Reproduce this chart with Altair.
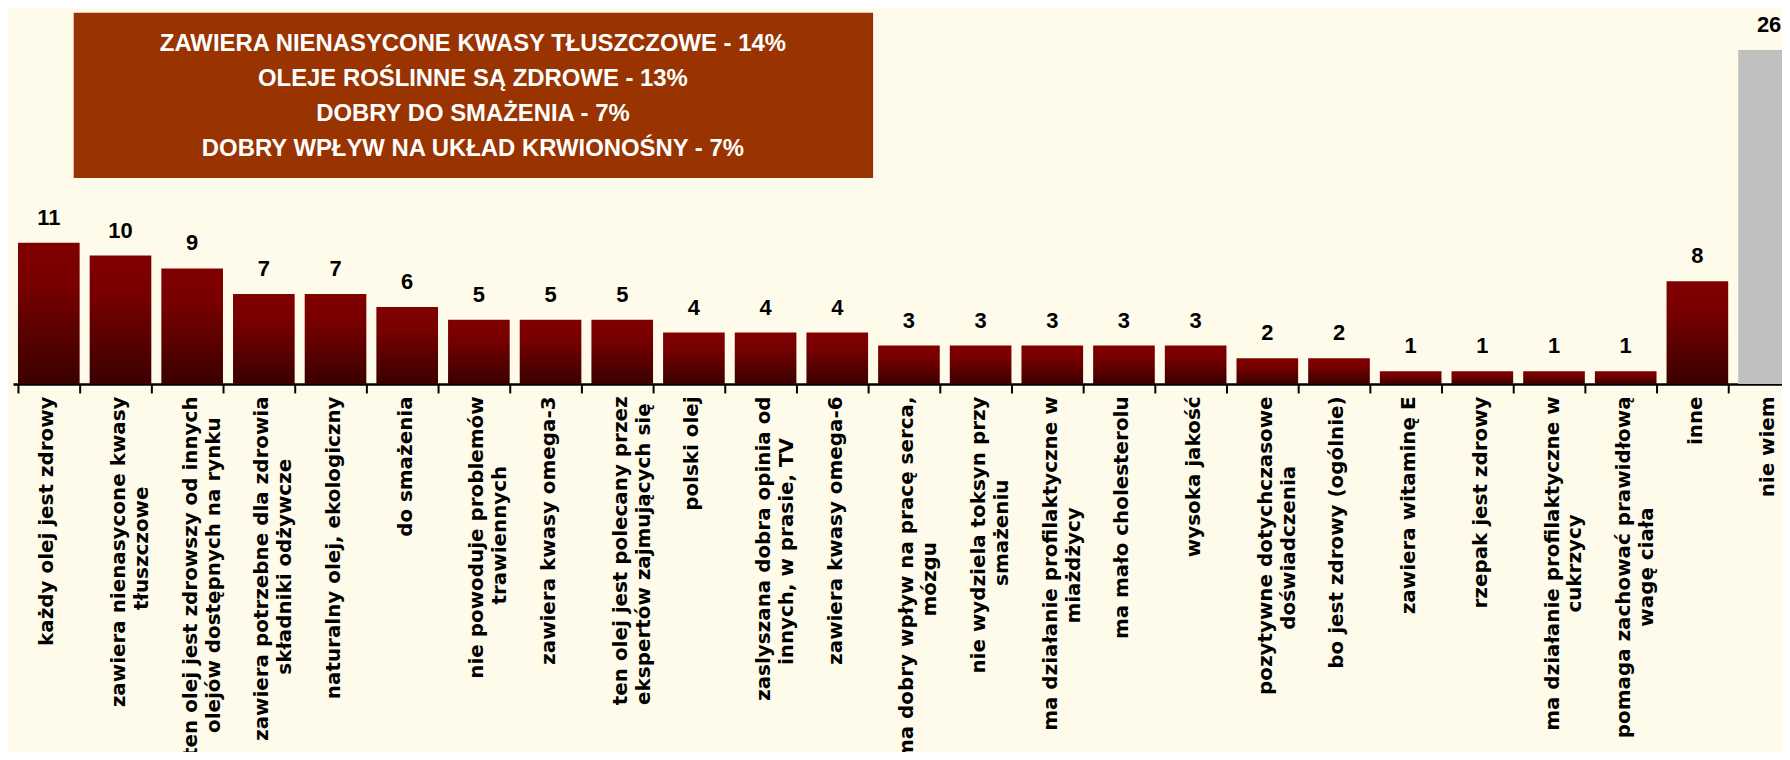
import altair as alt
import pandas as pd

# ---- data ----
categories = [
    "każdy olej jest zdrowy",
    "zawiera nienasycone kwasy|tłuszczowe",
    "ten olej jest zdrowszy od innych|olejów dostępnych na rynku",
    "zawiera potrzebne dla zdrowia|składniki odżywcze",
    "naturalny olej, ekologiczny",
    "do smażenia",
    "nie powoduje problemów|trawiennych",
    "zawiera kwasy omega-3",
    "ten olej jest polecany przez|ekspertów zajmujących się",
    "polski olej",
    "zaslyszana dobra opinia od|innych, w prasie, TV",
    "zawiera kwasy omega-6",
    "ma dobry wpływ na pracę serca,|mózgu",
    "nie wydziela toksyn przy|smażeniu",
    "ma działanie profilaktyczne w|miażdżycy",
    "ma mało cholesterolu",
    "wysoka jakość",
    "pozytywne dotychczasowe|doświadczenia",
    "bo jest zdrowy (ogólnie)",
    "zawiera witaminę E",
    "rzepak jest zdrowy",
    "ma działanie profilaktyczne w|cukrzycy",
    "pomaga zachować prawidłową|wagę ciała",
    "inne",
    "nie wiem",
]
values = [11, 10, 9, 7, 7, 6, 5, 5, 5, 4, 4, 4, 3, 3, 3, 3, 3, 2, 2, 1, 1, 1, 1, 8, 26]
highlight = "nie wiem"

box_lines = [
    "ZAWIERA NIENASYCONE KWASY TŁUSZCZOWE - 14%",
    "OLEJE ROŚLINNE SĄ ZDROWE - 13%",
    "DOBRY DO SMAŻENIA - 7%",
    "DOBRY WPŁYW NA UKŁAD KRWIONOŚNY - 7%",
]

# ---- approximate glyph widths (DejaVu Sans Bold, per 1000 em) used to centre
#      the lines of a two-line axis label against each other ----
GW = {
    " ": 348, "a": 675, "b": 716, "c": 593, "d": 716, "e": 678, "f": 435,
    "g": 716, "h": 712, "i": 343, "j": 343, "k": 665, "l": 343, "m": 1042,
    "n": 712, "o": 687, "p": 716, "r": 493, "s": 595, "t": 478, "u": 712,
    "v": 652, "w": 924, "x": 645, "y": 652, "z": 582, ",": 381, "-": 415,
    "(": 457, ")": 457, "ł": 400, "ą": 675, "ę": 678, "ó": 687, "ż": 582,
    "ź": 582, "ć": 593, "ś": 595, "ń": 712, "E": 683, "T": 682, "V": 774,
}
NBSP = "\u00a0"
ZWSP = "\u200b"  # keeps the no-break spaces from being trimmed


def text_w(s):
    return sum(GW.get(ch, 696) for ch in s)


def centre_lines(label):
    lines = label.split("|")
    ws = [text_w(l) for l in lines]
    wmax = max(ws)
    out = []
    for l, w in zip(lines, ws):
        n = int(round((wmax - w) / 2 / GW[" "]))
        out.append(l + (NBSP * n + ZWSP if n > 0 else ""))
    return "|".join(out)


labels = [centre_lines(c) for c in categories]
df = pd.DataFrame({
    "label": labels,
    "value": values,
    "kind": ["gray" if c == highlight else "red" for c in categories],
})

gradient = alt.LinearGradient(
    gradient="linear",
    x1=0, x2=0, y1=0, y2=1,
    stops=[
        alt.GradientStop(color="#800000", offset=0),
        alt.GradientStop(color="#780000", offset=0.3),
        alt.GradientStop(color="#3a0000", offset=1),
    ],
)

x_enc = alt.X(
    "label:N",
    sort=None,
    scale=alt.Scale(domain=labels, range=[0, 1800], paddingInner=0.14, paddingOuter=0.07),
    axis=alt.Axis(
        title=None,
        labelAngle=270,
        labelAlign="right",
        labelBaseline="middle",
        labelExpr="split(datum.label, '|')",
        labelFont="DejaVu Sans",
        labelFontWeight="bold",
        labelFontSize=20,
        labelLineHeight=23,
        labelColor="black",
        labelLimit=0,
        labelPadding=3,
        labelOffset=-2,
        labelOverlap=False,
        tickBand="extent",
        tickColor="black",
        tickWidth=2,
        tickSize=9,
        domainColor="black",
        domainWidth=2.5,
    ),
)
y_enc = alt.Y("value:Q", scale=alt.Scale(domain=[0, 29.15]), axis=None)

base = alt.Chart(df).encode(x=x_enc, y=y_enc)

bars_red = base.transform_filter(alt.datum.kind == "red").mark_bar(color=gradient, clip=True)
bars_gray = base.transform_filter(alt.datum.kind == "gray").mark_bar(color="#C0C0C0", clip=True)
value_text = base.mark_text(
    dy=-25, baseline="middle", align="center",
    font="Liberation Sans", fontWeight="bold", fontSize=22, color="black",
).encode(text="value:Q")

box_df = pd.DataFrame({"text": ["\n".join(box_lines)]})
box = alt.Chart(box_df).mark_rect(color="#993300").encode(
    x=alt.value(61), x2=alt.value(864), y=alt.value(3), y2=alt.value(169)
)
box_text = alt.Chart(box_df).mark_text(
    align="center", baseline="middle", lineBreak="\n", lineHeight=35,
    font="Liberation Sans", fontWeight="bold", fontSize=24, color="white",
).encode(x=alt.value(462), y=alt.value(35), text="text:N")

chart = alt.layer(bars_red, bars_gray, value_text, box, box_text).properties(
    width=1777,
    height=376,
    autosize=alt.AutoSizeParams(type="none"),
    padding={"left": 5, "top": 0, "right": 0, "bottom": 368},
    background="#FFFBEA",
).configure_view(strokeWidth=0)

chart.save("out.html", embed_options={"renderer": "svg", "actions": False})
